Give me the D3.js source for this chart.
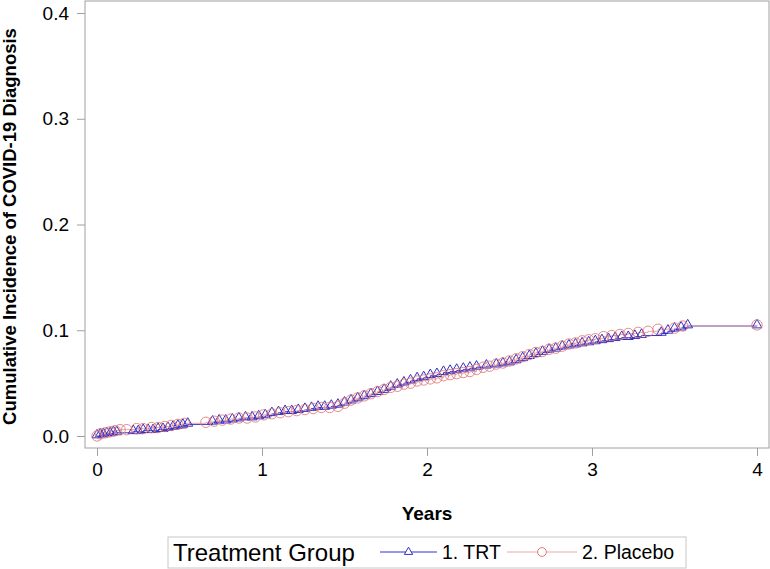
<!DOCTYPE html>
<html>
<head>
<meta charset="utf-8">
<script src="https://cdn.jsdelivr.net/npm/d3@7"></script>
<style>
  body { margin: 0; background: #fff; }
  text { font-family: "Liberation Sans", Arial, sans-serif; }
</style>
</head>
<body>
<svg class="container"></svg>
<script>
// cumulative incidence (years, incidence)
const trtTimes = [0, 0.02, 0.04, 0.06, 0.08, 0.10, 0.12, 0.22, 0.25, 0.28, 0.31, 0.34, 0.37, 0.40, 0.43, 0.46, 0.49, 0.52, 0.55, 0.70, 0.74, 0.78, 0.82, 0.86, 0.90, 0.94, 0.98, 1.02, 1.06, 1.10, 1.14, 1.18, 1.22, 1.26, 1.30, 1.34, 1.38, 1.42, 1.46, 1.50, 1.54, 1.58, 1.62, 1.66, 1.70, 1.74, 1.78, 1.82, 1.86, 1.90, 1.94, 1.98, 2.02, 2.06, 2.10, 2.14, 2.18, 2.22, 2.26, 2.30, 2.36, 2.42, 2.46, 2.50, 2.54, 2.58, 2.62, 2.66, 2.70, 2.74, 2.78, 2.82, 2.86, 2.90, 2.94, 2.98, 3.02, 3.06, 3.10, 3.14, 3.18, 3.22, 3.26, 3.30, 3.42, 3.46, 3.50, 3.54, 3.58, 4.00];
const trtValues = [0, 0.001, 0.001, 0.002, 0.002, 0.003, 0.003, 0.004, 0.004, 0.005, 0.005, 0.005, 0.006, 0.006, 0.007, 0.008, 0.009, 0.010, 0.011, 0.013, 0.014, 0.014, 0.015, 0.016, 0.017, 0.017, 0.018, 0.019, 0.021, 0.022, 0.023, 0.023, 0.024, 0.025, 0.026, 0.027, 0.027, 0.028, 0.029, 0.031, 0.033, 0.035, 0.037, 0.039, 0.041, 0.043, 0.046, 0.048, 0.050, 0.052, 0.054, 0.055, 0.057, 0.058, 0.060, 0.061, 0.062, 0.063, 0.064, 0.065, 0.066, 0.067, 0.068, 0.069, 0.071, 0.073, 0.075, 0.077, 0.079, 0.081, 0.082, 0.084, 0.085, 0.086, 0.087, 0.088, 0.089, 0.090, 0.091, 0.092, 0.093, 0.093, 0.094, 0.095, 0.097, 0.099, 0.101, 0.102, 0.104, 0.104];

const pboTimes = [0, 0.02, 0.05, 0.08, 0.11, 0.14, 0.18, 0.24, 0.28, 0.33, 0.37, 0.41, 0.45, 0.49, 0.53, 0.66, 0.71, 0.76, 0.81, 0.86, 0.91, 0.96, 1.01, 1.06, 1.11, 1.16, 1.21, 1.26, 1.31, 1.36, 1.41, 1.46, 1.50, 1.54, 1.58, 1.62, 1.66, 1.70, 1.74, 1.78, 1.82, 1.86, 1.90, 1.94, 1.98, 2.02, 2.06, 2.10, 2.14, 2.18, 2.22, 2.26, 2.30, 2.34, 2.38, 2.42, 2.46, 2.50, 2.54, 2.58, 2.62, 2.66, 2.70, 2.74, 2.78, 2.82, 2.86, 2.90, 2.94, 2.98, 3.02, 3.07, 3.12, 3.17, 3.22, 3.28, 3.34, 3.40, 3.50, 3.55, 4.00];
const pboValues = [0, 0.002, 0.003, 0.004, 0.005, 0.006, 0.006, 0.007, 0.007, 0.008, 0.008, 0.009, 0.010, 0.011, 0.012, 0.013, 0.014, 0.015, 0.016, 0.017, 0.017, 0.018, 0.020, 0.021, 0.022, 0.023, 0.024, 0.025, 0.026, 0.027, 0.027, 0.028, 0.031, 0.034, 0.036, 0.038, 0.040, 0.042, 0.044, 0.046, 0.047, 0.049, 0.050, 0.052, 0.053, 0.054, 0.055, 0.057, 0.058, 0.059, 0.060, 0.061, 0.063, 0.065, 0.066, 0.068, 0.069, 0.071, 0.073, 0.075, 0.077, 0.079, 0.080, 0.082, 0.083, 0.085, 0.087, 0.088, 0.090, 0.091, 0.092, 0.094, 0.095, 0.096, 0.097, 0.098, 0.099, 0.101, 0.102, 0.104, 0.105];

const xTicks = [0, 1, 2, 3, 4];
const yTicks = [0.0, 0.1, 0.2, 0.3, 0.4];
const groups = ["1. TRT", "2. Placebo"];

const width = 770, height = 569;
const frame = { left: 85, right: 769, top: 1, bottom: 448 };

const svg = d3.select(".container")
  .attr("width", width)
  .attr("height", height);

const xScale = d3.scaleLinear().domain([0, 4]).range([97, 757]);
const yScale = d3.scaleLinear().domain([0, 0.4]).range([436, 13]);

const blue = "#3030c8", red = "#e07878", redLine = "#e8a8a8";

// frame
svg.append("rect")
  .attr("x", frame.left).attr("y", frame.top)
  .attr("width", frame.right - frame.left).attr("height", frame.bottom - frame.top)
  .attr("fill", "none").attr("stroke", "#a0a0a0").attr("stroke-width", 1);

// axes
const xAxis = svg.append("g")
  .attr("transform", `translate(0,${frame.bottom})`)
  .call(d3.axisBottom(xScale).tickValues(xTicks).tickFormat(d3.format("d")).tickSize(8).tickPadding(7));
const yAxis = svg.append("g")
  .attr("transform", `translate(${frame.left},0)`)
  .call(d3.axisLeft(yScale).tickValues(yTicks).tickFormat(d3.format(".1f")).tickSize(8).tickPadding(8));
[xAxis, yAxis].forEach(ax => {
  ax.select(".domain").remove();
  ax.selectAll("line").attr("stroke", "#a0a0a0");
  ax.selectAll("text").attr("fill", "#000").style("font-size", "19px")
    .style("font-family", "'Liberation Sans', Arial, sans-serif");
});

svg.append("text")
  .attr("x", xScale(2)).attr("y", 520)
  .attr("text-anchor", "middle")
  .style("font-size", "19px").style("font-weight", "bold")
  .text("Years");
svg.append("text")
  .attr("transform", `translate(16,${yScale(0.2) + 2}) rotate(-90)`)
  .attr("text-anchor", "middle")
  .style("font-size", "18.5px").style("font-weight", "bold")
  .text("Cumulative Incidence of COVID-19 Diagnosis");

const trt = trtTimes.map((t, i) => ({ t: t, v: trtValues[i] }));
const pbo = pboTimes.map((t, i) => ({ t: t, v: pboValues[i] }));

const line = d3.line().x(d => xScale(d.t)).y(d => yScale(d.v)).curve(d3.curveStepAfter);
const triangle = d3.symbol().type(d3.symbolTriangle).size(42);
const circle = d3.symbol().type(d3.symbolCircle).size(85);

const plot = svg.append("g");

plot.append("path").datum(trt)
  .attr("d", line).attr("fill", "none").attr("stroke", blue).attr("stroke-width", 1);
plot.append("path").datum(pbo)
  .attr("d", line).attr("fill", "none").attr("stroke", redLine).attr("stroke-width", 1);

plot.selectAll(".trt-mark").data(trt).join("path")
  .attr("class", "trt-mark")
  .attr("transform", d => `translate(${xScale(d.t)},${yScale(d.v) - 1})`)
  .attr("d", triangle).attr("fill", "none").attr("stroke", blue).attr("stroke-width", 1);
plot.selectAll(".pbo-mark").data(pbo).join("path")
  .attr("class", "pbo-mark")
  .attr("transform", d => `translate(${xScale(d.t)},${yScale(d.v)})`)
  .attr("d", circle).attr("fill", "none").attr("stroke", red).attr("stroke-width", 1).attr("stroke-opacity", 0.85);

// legend
const legend = svg.append("g");
legend.append("rect")
  .attr("x", 168).attr("y", 537).attr("width", 518).attr("height", 31)
  .attr("fill", "none").attr("stroke", "#c8c8c8");
legend.append("text")
  .attr("x", 173).attr("y", 561)
  .style("font-size", "24px")
  .text("Treatment Group");

const items = [
  { label: groups[0], color: blue, lineColor: blue, sym: d3.symbol().type(d3.symbolTriangle).size(30), x0: 380, x1: 437 },
  { label: groups[1], color: red, lineColor: redLine, sym: d3.symbol().type(d3.symbolCircle).size(60), x0: 507, x1: 577 }
];
items.forEach(it => {
  const g = legend.append("g");
  g.append("line")
    .attr("x1", it.x0).attr("x2", it.x1)
    .attr("y1", 552).attr("y2", 552)
    .attr("stroke", it.lineColor).attr("stroke-width", 1);
  g.append("path")
    .attr("transform", `translate(${(it.x0 + it.x1) / 2},552)`)
    .attr("d", it.sym).attr("fill", "#fff").attr("stroke", it.color);
  g.append("text")
    .attr("x", it.x1 + 5).attr("y", 559)
    .style("font-size", "19.5px")
    .text(it.label);
});
</script>
</body>
</html>
